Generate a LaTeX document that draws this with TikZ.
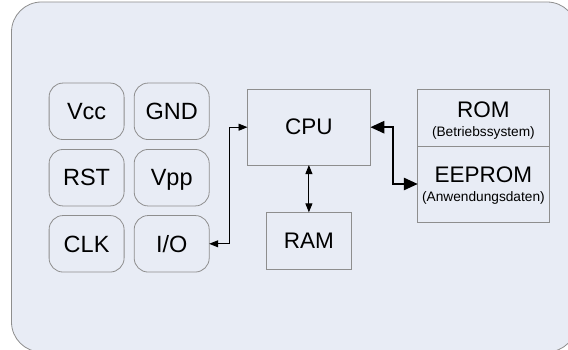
\documentclass[tikz,border=0pt]{standalone}
\usepackage{fontspec}
\setmainfont{Liberation Sans}
\usetikzlibrary{arrows.meta}
\definecolor{bgfill}{HTML}{E8ECF5}
\definecolor{edge}{HTML}{8E8E8E}
\tikzset{
  pinbox/.style={draw=edge, line width=0.8pt, rounded corners=14pt, minimum width=75pt, minimum height=56.5pt, inner sep=0pt, outer sep=0pt, text depth=0pt, font=\fontsize{23.5}{25}\selectfont},
  blockbox/.style={draw=edge, line width=0.8pt, inner sep=0pt, outer sep=0pt},
  bigtext/.style={inner sep=0pt, font=\fontsize{22.5}{24}\selectfont},
  smalltext/.style={inner sep=0pt, font=\fontsize{13.7}{15}\selectfont},
  thinarrow/.style={line width=0.9pt, {Triangle[length=9pt,width=7pt]}-{Triangle[length=9pt,width=7pt]}},
  thickarrow/.style={line width=2.6pt, {Triangle[length=14pt,width=12pt]}-{Triangle[length=14pt,width=12pt]}}
}
\begin{document}
\begin{tikzpicture}[x=1pt,y=-1pt]
\useasboundingbox (0,0) rectangle (568,350);
\fill[white] (0,0) rectangle (568,350);
\draw[edge, fill=bgfill, line width=0.8pt, rounded corners=30pt] (11.5,2) rectangle (577,352);

% pins
\node[pinbox] (vcc) at (86.6,111.3) {Vcc};
\node[pinbox] (gnd) at (171.7,111.3) {GND};
\node[pinbox] (rst) at (86.6,177.7) {RST};
\node[pinbox] (vpp) at (171.7,177.7) {Vpp};
\node[pinbox] (clk) at (86.6,243.8) {CLK};
\node[pinbox] (io)  at (171.7,243.8) {I/O};

% CPU and RAM
\node[blockbox, minimum width=122.8pt, minimum height=75.7pt] (cpu) at (308.9,127.2) {};
\node[bigtext] (cput) at (308.9,126.7) {CPU};
\node[blockbox, minimum width=85.1pt, minimum height=56.7pt] (ram) at (308.9,240.7) {};
\node[bigtext] (ramt) at (308.9,240.5) {RAM};

% memory
\node[blockbox, minimum width=131.1pt, minimum height=56.7pt] (rom) at (483.4,117.7) {};
\node[blockbox, minimum width=131.1pt, minimum height=76pt] (eeprom) at (483.4,184) {};
\node[bigtext] (romt) at (483.4,109.3) {ROM};
\node[smalltext] (romst) at (483.4,133.3) {(Betriebssystem)};
\node[bigtext] (eept) at (483.4,175) {EEPROM};
\node[smalltext] (eepst) at (483.4,197.7) {(Anwendungsdaten)};

% connectors
\coordinate (j1) at (229.3,0);
\coordinate (j2) at (393,0);
\draw[thinarrow] (io.east) -- (io.east -| j1) |- (cpu.west);
\draw[thinarrow] (cpu.south) -- (ram.north);
\draw[thickarrow] (cpu.east) -- (cpu.east -| j2) |- (eeprom.west);
\end{tikzpicture}
\end{document}
